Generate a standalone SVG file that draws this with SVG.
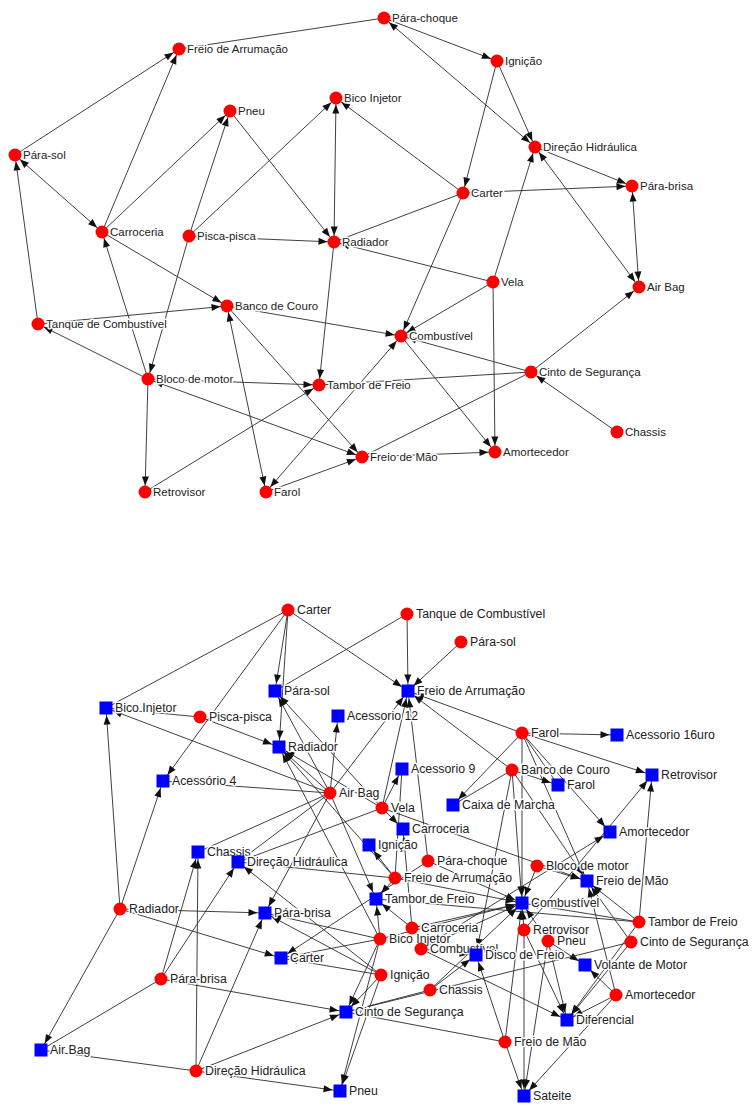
<svg xmlns="http://www.w3.org/2000/svg" width="756" height="1111" viewBox="0 0 756 1111">
<style>
.e line{stroke:#2a2a2a;stroke-width:0.9;fill:none}
.c{fill:#ff0000}
.q{fill:#0000ff}
text{font-family:"Liberation Sans",Arial,sans-serif;fill:#222;paint-order:stroke;stroke:#fff;stroke-width:3px;stroke-linejoin:round}
.t1{font-size:11.5px}
.t2{font-size:12.3px}
</style>
<defs>
<marker id="ac" markerUnits="userSpaceOnUse" markerWidth="20" markerHeight="10" refX="15.5" refY="3.5" orient="auto-start-reverse" overflow="visible"><path d="M0,0L9,3.5L0,7z" fill="#111"/></marker>
<marker id="as" markerUnits="userSpaceOnUse" markerWidth="20" markerHeight="10" refX="16.5" refY="3.5" orient="auto-start-reverse" overflow="visible"><path d="M0,0L9,3.5L0,7z" fill="#111"/></marker>
</defs>
<rect width="756" height="1111" fill="#fff"/>
<g id="connectors" class="e">
<g id="top-edges">
<line x1="384" y1="18" x2="179" y2="49"/>
<line x1="384" y1="18" x2="497" y2="61" marker-end="url(#ac)"/>
<line x1="384" y1="18" x2="535" y2="147" marker-start="url(#ac)" marker-end="url(#ac)"/>
<line x1="497" y1="61" x2="463" y2="193" marker-end="url(#ac)"/>
<line x1="497" y1="61" x2="535" y2="147" marker-end="url(#ac)"/>
<line x1="15" y1="155" x2="179" y2="49" marker-end="url(#ac)"/>
<line x1="102" y1="232" x2="179" y2="49" marker-end="url(#ac)"/>
<line x1="15" y1="155" x2="102" y2="232" marker-start="url(#ac)" marker-end="url(#ac)"/>
<line x1="38" y1="324" x2="15" y2="155" marker-end="url(#ac)"/>
<line x1="102" y1="232" x2="230" y2="111" marker-end="url(#ac)"/>
<line x1="189" y1="236" x2="230" y2="111" marker-end="url(#ac)"/>
<line x1="189" y1="236" x2="148" y2="379" marker-end="url(#ac)"/>
<line x1="230" y1="111" x2="334" y2="242" marker-end="url(#ac)"/>
<line x1="189" y1="236" x2="336" y2="98" marker-end="url(#ac)"/>
<line x1="189" y1="236" x2="334" y2="242" marker-end="url(#ac)"/>
<line x1="336" y1="98" x2="334" y2="242" marker-start="url(#ac)" marker-end="url(#ac)"/>
<line x1="463" y1="193" x2="336" y2="98" marker-end="url(#ac)"/>
<line x1="463" y1="193" x2="334" y2="242"/>
<line x1="463" y1="193" x2="632" y2="186" marker-end="url(#ac)"/>
<line x1="535" y1="147" x2="632" y2="186" marker-end="url(#ac)"/>
<line x1="639" y1="287" x2="535" y2="147" marker-start="url(#ac)" marker-end="url(#ac)"/>
<line x1="632" y1="186" x2="639" y2="287" marker-start="url(#ac)" marker-end="url(#ac)"/>
<line x1="493" y1="282" x2="535" y2="147" marker-end="url(#ac)"/>
<line x1="493" y1="282" x2="334" y2="242" marker-end="url(#ac)"/>
<line x1="493" y1="282" x2="401" y2="336" marker-end="url(#ac)"/>
<line x1="493" y1="282" x2="495" y2="452" marker-end="url(#ac)"/>
<line x1="463" y1="193" x2="401" y2="336" marker-end="url(#ac)"/>
<line x1="102" y1="232" x2="227" y2="306" marker-end="url(#ac)"/>
<line x1="148" y1="379" x2="102" y2="232" marker-end="url(#ac)"/>
<line x1="38" y1="324" x2="227" y2="306" marker-end="url(#ac)"/>
<line x1="148" y1="379" x2="38" y2="324" marker-end="url(#ac)"/>
<line x1="148" y1="379" x2="145" y2="492" marker-end="url(#ac)"/>
<line x1="148" y1="379" x2="319" y2="385" marker-end="url(#ac)"/>
<line x1="148" y1="379" x2="362" y2="457" marker-start="url(#ac)" marker-end="url(#ac)"/>
<line x1="145" y1="492" x2="319" y2="385" marker-end="url(#ac)"/>
<line x1="227" y1="306" x2="266" y2="492" marker-start="url(#ac)" marker-end="url(#ac)"/>
<line x1="227" y1="306" x2="362" y2="457" marker-end="url(#ac)"/>
<line x1="227" y1="306" x2="401" y2="336" marker-end="url(#ac)"/>
<line x1="266" y1="492" x2="362" y2="457" marker-end="url(#ac)"/>
<line x1="266" y1="492" x2="401" y2="336" marker-start="url(#ac)" marker-end="url(#ac)"/>
<line x1="334" y1="242" x2="319" y2="385" marker-end="url(#ac)"/>
<line x1="531" y1="372" x2="401" y2="336" marker-end="url(#ac)"/>
<line x1="531" y1="372" x2="319" y2="385"/>
<line x1="531" y1="372" x2="639" y2="287" marker-end="url(#ac)"/>
<line x1="531" y1="372" x2="362" y2="457"/>
<line x1="617" y1="432" x2="531" y2="372" marker-end="url(#ac)"/>
<line x1="401" y1="336" x2="495" y2="452" marker-end="url(#ac)"/>
<line x1="362" y1="457" x2="495" y2="452" marker-end="url(#ac)"/>
</g>
<g id="bottom-edges">
<line x1="288" y1="610" x2="106" y2="708"/>
<line x1="288" y1="610" x2="275" y2="691" marker-end="url(#as)"/>
<line x1="288" y1="610" x2="279" y2="747" marker-end="url(#as)"/>
<line x1="288" y1="610" x2="163" y2="781" marker-end="url(#as)"/>
<line x1="288" y1="610" x2="408" y2="691" marker-end="url(#as)"/>
<line x1="407" y1="614" x2="408" y2="691" marker-end="url(#as)"/>
<line x1="407" y1="614" x2="275" y2="691"/>
<line x1="461" y1="642" x2="408" y2="691" marker-end="url(#as)"/>
<line x1="200" y1="717" x2="106" y2="708"/>
<line x1="200" y1="717" x2="279" y2="747" marker-end="url(#as)"/>
<line x1="522" y1="733" x2="408" y2="691" marker-end="url(#as)"/>
<line x1="522" y1="733" x2="617" y2="735" marker-end="url(#as)"/>
<line x1="522" y1="733" x2="652" y2="775" marker-end="url(#as)"/>
<line x1="522" y1="733" x2="453" y2="805" marker-end="url(#as)"/>
<line x1="522" y1="733" x2="522" y2="903" marker-end="url(#as)"/>
<line x1="522" y1="733" x2="610" y2="832" marker-end="url(#as)"/>
<line x1="522" y1="733" x2="558" y2="785"/>
<line x1="522" y1="733" x2="587" y2="881" marker-end="url(#as)"/>
<line x1="512" y1="770" x2="408" y2="691" marker-end="url(#as)"/>
<line x1="512" y1="770" x2="558" y2="785" marker-end="url(#as)"/>
<line x1="512" y1="770" x2="453" y2="805"/>
<line x1="512" y1="770" x2="522" y2="903" marker-end="url(#as)"/>
<line x1="512" y1="770" x2="476" y2="955" marker-end="url(#as)"/>
<line x1="512" y1="770" x2="587" y2="881" marker-end="url(#as)"/>
<line x1="330" y1="793" x2="279" y2="747" marker-end="url(#as)"/>
<line x1="330" y1="793" x2="106" y2="708" marker-end="url(#as)"/>
<line x1="330" y1="793" x2="163" y2="781"/>
<line x1="330" y1="793" x2="338" y2="716" marker-end="url(#as)"/>
<line x1="330" y1="793" x2="198" y2="852"/>
<line x1="330" y1="793" x2="238" y2="862"/>
<line x1="330" y1="793" x2="265" y2="913" marker-end="url(#as)"/>
<line x1="330" y1="793" x2="376" y2="899" marker-end="url(#as)"/>
<line x1="330" y1="793" x2="408" y2="691" marker-end="url(#as)"/>
<line x1="330" y1="793" x2="275" y2="691" marker-end="url(#as)"/>
<line x1="382" y1="808" x2="402" y2="769" marker-end="url(#as)"/>
<line x1="382" y1="808" x2="403" y2="829" marker-end="url(#as)"/>
<line x1="382" y1="808" x2="408" y2="691" marker-end="url(#as)"/>
<line x1="382" y1="808" x2="238" y2="862"/>
<line x1="382" y1="808" x2="279" y2="747" marker-end="url(#as)"/>
<line x1="382" y1="808" x2="587" y2="881" marker-end="url(#as)"/>
<line x1="382" y1="808" x2="275" y2="691" marker-end="url(#as)"/>
<line x1="428" y1="861" x2="408" y2="691" marker-end="url(#as)"/>
<line x1="428" y1="861" x2="522" y2="903" marker-end="url(#as)"/>
<line x1="428" y1="861" x2="281" y2="958" marker-end="url(#as)"/>
<line x1="537" y1="866" x2="587" y2="881" marker-end="url(#as)"/>
<line x1="537" y1="866" x2="522" y2="903" marker-end="url(#as)"/>
<line x1="395" y1="878" x2="369" y2="845" marker-end="url(#as)"/>
<line x1="395" y1="878" x2="376" y2="899" marker-end="url(#as)"/>
<line x1="395" y1="878" x2="238" y2="862"/>
<line x1="395" y1="878" x2="522" y2="903" marker-end="url(#as)"/>
<line x1="395" y1="878" x2="402" y2="769"/>
<line x1="395" y1="878" x2="279" y2="747" marker-end="url(#as)"/>
<line x1="120" y1="909" x2="106" y2="708" marker-end="url(#as)"/>
<line x1="120" y1="909" x2="163" y2="781" marker-end="url(#as)"/>
<line x1="120" y1="909" x2="41" y2="1050" marker-end="url(#as)"/>
<line x1="120" y1="909" x2="265" y2="913" marker-end="url(#as)"/>
<line x1="120" y1="909" x2="281" y2="958" marker-end="url(#as)"/>
<line x1="639" y1="922" x2="652" y2="775" marker-end="url(#as)"/>
<line x1="639" y1="922" x2="522" y2="903" marker-end="url(#as)"/>
<line x1="639" y1="922" x2="376" y2="899"/>
<line x1="639" y1="922" x2="567" y2="1020" marker-end="url(#as)"/>
<line x1="639" y1="922" x2="587" y2="881" marker-end="url(#as)"/>
<line x1="412" y1="928" x2="522" y2="903" marker-end="url(#as)"/>
<line x1="412" y1="928" x2="376" y2="899" marker-end="url(#as)"/>
<line x1="412" y1="928" x2="403" y2="829" marker-end="url(#as)"/>
<line x1="524" y1="930" x2="522" y2="903" marker-end="url(#as)"/>
<line x1="524" y1="930" x2="567" y2="1020" marker-end="url(#as)"/>
<line x1="524" y1="930" x2="524" y2="1096" marker-end="url(#as)"/>
<line x1="524" y1="930" x2="652" y2="775" marker-end="url(#as)"/>
<line x1="380" y1="939" x2="279" y2="747" marker-end="url(#as)"/>
<line x1="380" y1="939" x2="376" y2="899" marker-end="url(#as)"/>
<line x1="380" y1="939" x2="265" y2="913" marker-end="url(#as)"/>
<line x1="380" y1="939" x2="346" y2="1012" marker-end="url(#as)"/>
<line x1="380" y1="939" x2="522" y2="903" marker-end="url(#as)"/>
<line x1="380" y1="939" x2="281" y2="958"/>
<line x1="380" y1="939" x2="340" y2="1091" marker-end="url(#as)"/>
<line x1="548" y1="941" x2="585" y2="965" marker-end="url(#as)"/>
<line x1="548" y1="941" x2="567" y2="1020" marker-end="url(#as)"/>
<line x1="548" y1="941" x2="524" y2="1096" marker-end="url(#as)"/>
<line x1="548" y1="941" x2="522" y2="903" marker-end="url(#as)"/>
<line x1="631" y1="942" x2="587" y2="881" marker-end="url(#as)"/>
<line x1="631" y1="942" x2="567" y2="1020" marker-end="url(#as)"/>
<line x1="631" y1="942" x2="346" y2="1012"/>
<line x1="421" y1="949" x2="522" y2="903" marker-end="url(#as)"/>
<line x1="421" y1="949" x2="476" y2="955" marker-end="url(#as)"/>
<line x1="421" y1="949" x2="567" y2="1020" marker-end="url(#as)"/>
<line x1="421" y1="949" x2="610" y2="832" marker-end="url(#as)"/>
<line x1="381" y1="975" x2="265" y2="913" marker-end="url(#as)"/>
<line x1="381" y1="975" x2="281" y2="958" marker-end="url(#as)"/>
<line x1="381" y1="975" x2="346" y2="1012" marker-end="url(#as)"/>
<line x1="381" y1="975" x2="340" y2="1091" marker-end="url(#as)"/>
<line x1="381" y1="975" x2="238" y2="862" marker-end="url(#as)"/>
<line x1="161" y1="979" x2="198" y2="852" marker-end="url(#as)"/>
<line x1="161" y1="979" x2="238" y2="862" marker-end="url(#as)"/>
<line x1="161" y1="979" x2="41" y2="1050"/>
<line x1="161" y1="979" x2="346" y2="1012" marker-end="url(#as)"/>
<line x1="430" y1="990" x2="476" y2="955" marker-end="url(#as)"/>
<line x1="430" y1="990" x2="346" y2="1012"/>
<line x1="430" y1="990" x2="522" y2="903" marker-end="url(#as)"/>
<line x1="616" y1="995" x2="567" y2="1020" marker-end="url(#as)"/>
<line x1="616" y1="995" x2="585" y2="965" marker-end="url(#as)"/>
<line x1="616" y1="995" x2="587" y2="881" marker-end="url(#as)"/>
<line x1="616" y1="995" x2="524" y2="1096" marker-end="url(#as)"/>
<line x1="505" y1="1042" x2="524" y2="1096" marker-end="url(#as)"/>
<line x1="505" y1="1042" x2="476" y2="955" marker-end="url(#as)"/>
<line x1="505" y1="1042" x2="522" y2="903" marker-end="url(#as)"/>
<line x1="505" y1="1042" x2="346" y2="1012"/>
<line x1="196" y1="1071" x2="198" y2="852" marker-end="url(#as)"/>
<line x1="196" y1="1071" x2="265" y2="913" marker-end="url(#as)"/>
<line x1="196" y1="1071" x2="346" y2="1012" marker-end="url(#as)"/>
<line x1="196" y1="1071" x2="340" y2="1091" marker-end="url(#as)"/>
<line x1="196" y1="1071" x2="41" y2="1050"/>
</g>
</g>
<g id="top-nodes">
<g id="t-parachoque"><circle class="c" cx="384" cy="18" r="6.5"/><text class="t1" x="392" y="22">Pára-choque</text></g>
<g id="t-freio-arrumacao"><circle class="c" cx="179" cy="49" r="6.5"/><text class="t1" x="187" y="53">Freio de Arrumação</text></g>
<g id="t-ignicao"><circle class="c" cx="497" cy="61" r="6.5"/><text class="t1" x="505" y="65">Ignição</text></g>
<g id="t-bico"><circle class="c" cx="336" cy="98" r="6.5"/><text class="t1" x="344" y="102">Bico Injetor</text></g>
<g id="t-pneu"><circle class="c" cx="230" cy="111" r="6.5"/><text class="t1" x="238" y="115">Pneu</text></g>
<g id="t-parasol"><circle class="c" cx="15" cy="155" r="6.5"/><text class="t1" x="23" y="159">Pára-sol</text></g>
<g id="t-direcao"><circle class="c" cx="535" cy="147" r="6.5"/><text class="t1" x="543" y="151">Direção Hidráulica</text></g>
<g id="t-carter"><circle class="c" cx="463" cy="193" r="6.5"/><text class="t1" x="471" y="197">Carter</text></g>
<g id="t-parabrisa"><circle class="c" cx="632" cy="186" r="6.5"/><text class="t1" x="640" y="190">Pára-brisa</text></g>
<g id="t-carroceria"><circle class="c" cx="102" cy="232" r="6.5"/><text class="t1" x="110" y="236">Carroceria</text></g>
<g id="t-pisca"><circle class="c" cx="189" cy="236" r="6.5"/><text class="t1" x="197" y="240">Pisca-pisca</text></g>
<g id="t-radiador"><circle class="c" cx="334" cy="242" r="6.5"/><text class="t1" x="342" y="246">Radiador</text></g>
<g id="t-vela"><circle class="c" cx="493" cy="282" r="6.5"/><text class="t1" x="501" y="286">Vela</text></g>
<g id="t-airbag"><circle class="c" cx="639" cy="287" r="6.5"/><text class="t1" x="647" y="291">Air Bag</text></g>
<g id="t-banco"><circle class="c" cx="227" cy="306" r="6.5"/><text class="t1" x="235" y="310">Banco de Couro</text></g>
<g id="t-tanque"><circle class="c" cx="38" cy="324" r="6.5"/><text class="t1" x="46" y="328">Tanque de Combustível</text></g>
<g id="t-combustivel"><circle class="c" cx="401" cy="336" r="6.5"/><text class="t1" x="409" y="340">Combustível</text></g>
<g id="t-bloco"><circle class="c" cx="148" cy="379" r="6.5"/><text class="t1" x="156" y="383">Bloco de motor</text></g>
<g id="t-tambor"><circle class="c" cx="319" cy="385" r="6.5"/><text class="t1" x="327" y="389">Tambor de Freio</text></g>
<g id="t-cinto"><circle class="c" cx="531" cy="372" r="6.5"/><text class="t1" x="539" y="376">Cinto de Segurança</text></g>
<g id="t-chassis"><circle class="c" cx="617" cy="432" r="6.5"/><text class="t1" x="625" y="436">Chassis</text></g>
<g id="t-freio-mao"><circle class="c" cx="362" cy="457" r="6.5"/><text class="t1" x="370" y="461">Freio de Mão</text></g>
<g id="t-amortecedor"><circle class="c" cx="495" cy="452" r="6.5"/><text class="t1" x="503" y="456">Amortecedor</text></g>
<g id="t-retrovisor"><circle class="c" cx="145" cy="492" r="6.5"/><text class="t1" x="153" y="496">Retrovisor</text></g>
<g id="t-farol"><circle class="c" cx="266" cy="492" r="6.5"/><text class="t1" x="274" y="496">Farol</text></g>
</g>
<g id="bottom-nodes">
<g id="b-c-carter"><circle class="c" cx="288" cy="610" r="6.5"/><text class="t2" x="297" y="614">Carter</text></g>
<g id="b-c-tanque"><circle class="c" cx="407" cy="614" r="6.5"/><text class="t2" x="416" y="618">Tanque de Combustível</text></g>
<g id="b-c-parasol"><circle class="c" cx="461" cy="642" r="6.5"/><text class="t2" x="470" y="646">Pára-sol</text></g>
<g id="b-s-parasol"><rect class="q" x="268.5" y="684.5" width="13" height="13"/><text class="t2" x="284" y="695">Pára-sol</text></g>
<g id="b-s-freio-arrumacao"><rect class="q" x="401.5" y="684.5" width="13" height="13"/><text class="t2" x="417" y="695">Freio de Arrumação</text></g>
<g id="b-s-bico"><rect class="q" x="99.5" y="701.5" width="13" height="13"/><text class="t2" x="115" y="712">Bico Injetor</text></g>
<g id="b-c-pisca"><circle class="c" cx="200" cy="717" r="6.5"/><text class="t2" x="209" y="721">Pisca-pisca</text></g>
<g id="b-s-ac12"><rect class="q" x="331.5" y="709.5" width="13" height="13"/><text class="t2" x="347" y="720">Acessorio 12</text></g>
<g id="b-c-farol"><circle class="c" cx="522" cy="733" r="6.5"/><text class="t2" x="531" y="737">Farol</text></g>
<g id="b-s-ac16"><rect class="q" x="610.5" y="728.5" width="13" height="13"/><text class="t2" x="626" y="739">Acessorio 16uro</text></g>
<g id="b-s-radiador"><rect class="q" x="272.5" y="740.5" width="13" height="13"/><text class="t2" x="288" y="751">Radiador</text></g>
<g id="b-s-ac9"><rect class="q" x="395.5" y="762.5" width="13" height="13"/><text class="t2" x="411" y="773">Acessorio 9</text></g>
<g id="b-c-banco"><circle class="c" cx="512" cy="770" r="6.5"/><text class="t2" x="521" y="774">Banco de Couro</text></g>
<g id="b-s-retrovisor"><rect class="q" x="645.5" y="768.5" width="13" height="13"/><text class="t2" x="661" y="779">Retrovisor</text></g>
<g id="b-s-ac4"><rect class="q" x="156.5" y="774.5" width="13" height="13"/><text class="t2" x="172" y="785">Acessório 4</text></g>
<g id="b-s-farol"><rect class="q" x="551.5" y="778.5" width="13" height="13"/><text class="t2" x="567" y="789">Farol</text></g>
<g id="b-c-airbag"><circle class="c" cx="330" cy="793" r="6.5"/><text class="t2" x="339" y="797">Air Bag</text></g>
<g id="b-c-vela"><circle class="c" cx="382" cy="808" r="6.5"/><text class="t2" x="391" y="812">Vela</text></g>
<g id="b-s-caixa"><rect class="q" x="446.5" y="798.5" width="13" height="13"/><text class="t2" x="462" y="809">Caixa de Marcha</text></g>
<g id="b-s-carroceria"><rect class="q" x="396.5" y="822.5" width="13" height="13"/><text class="t2" x="412" y="833">Carroceria</text></g>
<g id="b-s-amortecedor"><rect class="q" x="603.5" y="825.5" width="13" height="13"/><text class="t2" x="619" y="836">Amortecedor</text></g>
<g id="b-s-ignicao"><rect class="q" x="362.5" y="838.5" width="13" height="13"/><text class="t2" x="378" y="849">Ignição</text></g>
<g id="b-s-chassis"><rect class="q" x="191.5" y="845.5" width="13" height="13"/><text class="t2" x="207" y="856">Chassis</text></g>
<g id="b-s-direcao"><rect class="q" x="231.5" y="855.5" width="13" height="13"/><text class="t2" x="247" y="866">Direção Hidráulica</text></g>
<g id="b-c-parachoque"><circle class="c" cx="428" cy="861" r="6.5"/><text class="t2" x="437" y="865">Pára-choque</text></g>
<g id="b-c-bloco"><circle class="c" cx="537" cy="866" r="6.5"/><text class="t2" x="546" y="870">Bloco de motor</text></g>
<g id="b-c-freio-arrumacao"><circle class="c" cx="395" cy="878" r="6.5"/><text class="t2" x="404" y="882">Freio de Arrumação</text></g>
<g id="b-s-freio-mao"><rect class="q" x="580.5" y="874.5" width="13" height="13"/><text class="t2" x="596" y="885">Freio de Mão</text></g>
<g id="b-s-tambor"><rect class="q" x="369.5" y="892.5" width="13" height="13"/><text class="t2" x="385" y="903">Tambor de Freio</text></g>
<g id="b-s-combustivel"><rect class="q" x="515.5" y="896.5" width="13" height="13"/><text class="t2" x="531" y="907">Combustível</text></g>
<g id="b-c-radiador"><circle class="c" cx="120" cy="909" r="6.5"/><text class="t2" x="129" y="913">Radiador</text></g>
<g id="b-s-parabrisa"><rect class="q" x="258.5" y="906.5" width="13" height="13"/><text class="t2" x="274" y="917">Pára-brisa</text></g>
<g id="b-c-tambor"><circle class="c" cx="639" cy="922" r="6.5"/><text class="t2" x="648" y="926">Tambor de Freio</text></g>
<g id="b-c-carroceria"><circle class="c" cx="412" cy="928" r="6.5"/><text class="t2" x="421" y="932">Carroceria</text></g>
<g id="b-c-retrovisor"><circle class="c" cx="524" cy="930" r="6.5"/><text class="t2" x="533" y="934">Retrovisor</text></g>
<g id="b-c-bico"><circle class="c" cx="380" cy="939" r="6.5"/><text class="t2" x="389" y="943">Bico Injetor</text></g>
<g id="b-c-pneu"><circle class="c" cx="548" cy="941" r="6.5"/><text class="t2" x="557" y="945">Pneu</text></g>
<g id="b-c-cinto"><circle class="c" cx="631" cy="942" r="6.5"/><text class="t2" x="640" y="946">Cinto de Segurança</text></g>
<g id="b-c-combustivel"><circle class="c" cx="421" cy="949" r="6.5"/><text class="t2" x="430" y="953">Combustível</text></g>
<g id="b-s-disco"><rect class="q" x="469.5" y="948.5" width="13" height="13"/><text class="t2" x="485" y="959">Disco de Freio</text></g>
<g id="b-s-carter"><rect class="q" x="274.5" y="951.5" width="13" height="13"/><text class="t2" x="290" y="962">Carter</text></g>
<g id="b-s-volante"><rect class="q" x="578.5" y="958.5" width="13" height="13"/><text class="t2" x="594" y="969">Volante de Motor</text></g>
<g id="b-c-ignicao"><circle class="c" cx="381" cy="975" r="6.5"/><text class="t2" x="390" y="979">Ignição</text></g>
<g id="b-c-parabrisa"><circle class="c" cx="161" cy="979" r="6.5"/><text class="t2" x="170" y="983">Pára-brisa</text></g>
<g id="b-c-chassis"><circle class="c" cx="430" cy="990" r="6.5"/><text class="t2" x="439" y="994">Chassis</text></g>
<g id="b-c-amortecedor"><circle class="c" cx="616" cy="995" r="6.5"/><text class="t2" x="625" y="999">Amortecedor</text></g>
<g id="b-s-cinto"><rect class="q" x="339.5" y="1005.5" width="13" height="13"/><text class="t2" x="355" y="1016">Cinto de Segurança</text></g>
<g id="b-s-diferencial"><rect class="q" x="560.5" y="1013.5" width="13" height="13"/><text class="t2" x="576" y="1024">Diferencial</text></g>
<g id="b-c-freio-mao"><circle class="c" cx="505" cy="1042" r="6.5"/><text class="t2" x="514" y="1046">Freio de Mão</text></g>
<g id="b-s-airbag"><rect class="q" x="34.5" y="1043.5" width="13" height="13"/><text class="t2" x="50" y="1054">Air Bag</text></g>
<g id="b-c-direcao"><circle class="c" cx="196" cy="1071" r="6.5"/><text class="t2" x="205" y="1075">Direção Hidráulica</text></g>
<g id="b-s-pneu"><rect class="q" x="333.5" y="1084.5" width="13" height="13"/><text class="t2" x="349" y="1095">Pneu</text></g>
<g id="b-s-sateite"><rect class="q" x="517.5" y="1089.5" width="13" height="13"/><text class="t2" x="533" y="1100">Sateite</text></g>
</g>
</svg>
